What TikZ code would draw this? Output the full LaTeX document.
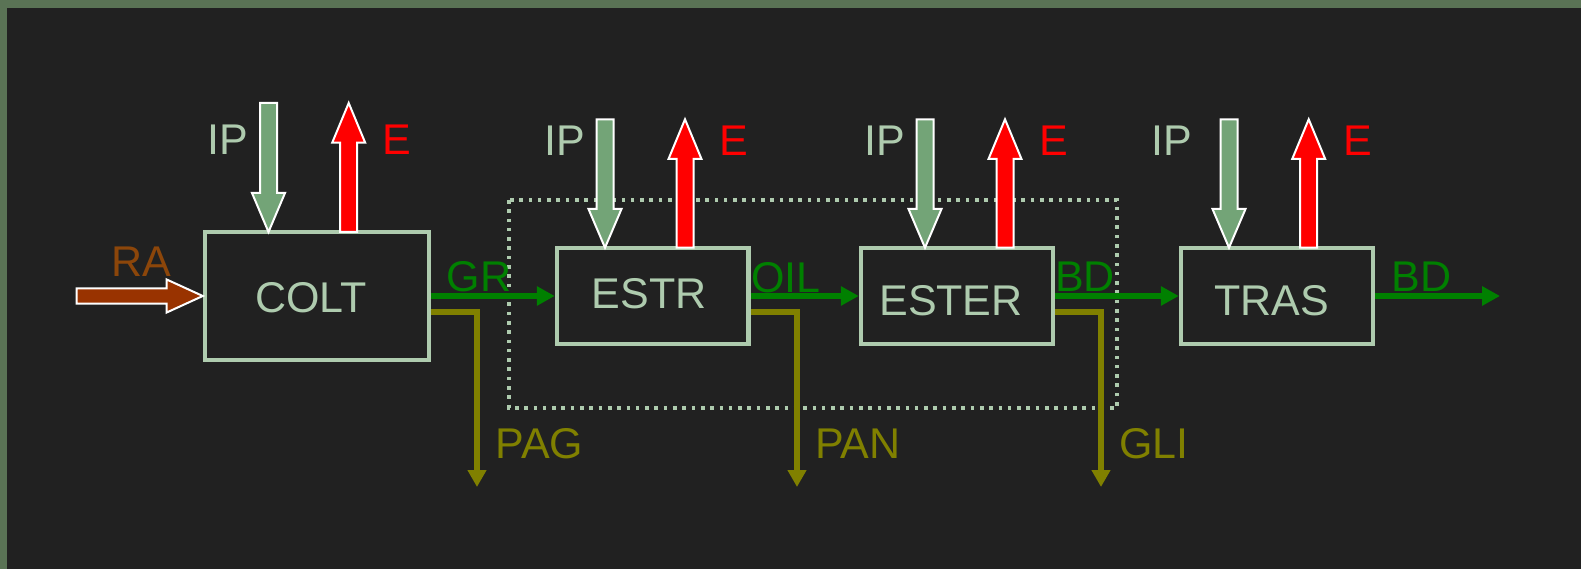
\documentclass[tikz,border=0pt]{standalone}
\usepackage{fontspec}
\setmainfont{Liberation Sans}
\usetikzlibrary{arrows.meta}
\definecolor{bgframe}{RGB}{90,115,85}
\definecolor{bgdark}{RGB}{33,33,33}
\definecolor{sage}{RGB}{174,203,174}
\definecolor{ipfill}{RGB}{115,164,119}
\definecolor{flowgreen}{RGB}{0,128,0}
\definecolor{olive}{RGB}{128,128,0}
\definecolor{ratext}{RGB}{140,70,10}
\definecolor{rafill}{RGB}{153,51,0}
\tikzset{
  boxnode/.style={draw=sage, line width=4.4pt, inner sep=0pt},
  txt/.style={font=\fontsize{43}{50}\selectfont, anchor=base, inner sep=0pt},
  flow/.style={draw=flowgreen, line width=5.6pt, -{Triangle[length=18pt,width=18.5pt]}},
  side/.style={draw=olive, line width=5.6pt, line join=miter, -{Triangle[length=17pt,width=18pt]}},
  fat/.style={draw=white, line width=2pt, line join=miter},
  dotbox/.style={draw=sage, line width=3.6pt, dash pattern=on 3.6pt off 5.7pt}
}
\newcommand\fatdown[4]{\draw[fat, fill=ipfill] (#1-8.5,#2) -- (#1+8.5,#2) -- (#1+8.5,#3) -- (#1+16.5,#3) -- (#1,#4) -- (#1-16.5,#3) -- (#1-8.5,#3) -- cycle;}
\newcommand\fatup[4]{\draw[fat, fill=red] (#1-8.5,#2) -- (#1+8.5,#2) -- (#1+8.5,#3) -- (#1+16.5,#3) -- (#1,#4) -- (#1-16.5,#3) -- (#1-8.5,#3) -- cycle;}
\begin{document}
\begin{tikzpicture}[x=1pt,y=-1pt]
\useasboundingbox (0,0) rectangle (1581,569);
\fill[bgframe] (0,0) rectangle (1581,569);
\fill[bgdark] (7,8) rectangle (1581,569);

% dotted group
\draw[dotbox] (509,200) rectangle (1117,408);

% boxes
\node[boxnode, minimum width=224pt, minimum height=128pt] (COLT) at (317,296) {};
\node[boxnode, minimum width=191.7pt, minimum height=96pt] (ESTR) at (652.8,296) {};
\node[boxnode, minimum width=192pt, minimum height=96pt] (ESTER) at (957,296) {};
\node[boxnode, minimum width=192pt, minimum height=96pt] (TRAS) at (1277,296) {};
\node[txt, text=sage] (tCOLT) at (311,312.4) {COLT};
\node[txt, text=sage] (tESTR) at (649,308.4) {ESTR};
\node[txt, text=sage] (tESTER) at (951,315.4) {ESTER};
\node[txt, text=sage] (tTRAS) at (1272,315) {TRAS};

% fat arrows
\fatdown{268.5}{103}{193}{232}
\fatup{348.7}{232}{142.7}{103}
\fatdown{605}{119.3}{209}{247.7}
\fatup{685}{247.7}{159}{119.3}
\fatdown{925}{119.3}{209}{247.7}
\fatup{1005}{247.7}{159}{119.3}
\fatdown{1229}{119.3}{209}{247.7}
\fatup{1308.7}{247.7}{159}{119.3}
\draw[fat, fill=rafill] (76.7,288.3) -- (166.7,288.3) -- (166.7,279.5) -- (COLT.west) -- (166.7,312.5) -- (166.7,303.7) -- (76.7,303.7) -- cycle;

% IP / E labels
\node[txt, text=sage] (ip1) at (228,154.4) {IP};
\node[txt, text=red] (e1) at (397,154.4) {E};
\node[txt, text=sage] (ip2) at (564.7,155.4) {IP};
\node[txt, text=red] (e2) at (733.8,155.4) {E};
\node[txt, text=sage] (ip3) at (884.7,155.4) {IP};
\node[txt, text=red] (e3) at (1054,155.4) {E};
\node[txt, text=sage] (ip4) at (1172,155.4) {IP};
\node[txt, text=red] (e4) at (1358,155.4) {E};
\node[txt, text=ratext] (ra) at (141.5,276.4) {RA};

% main flow
\coordinate (out) at (1500,296);
\draw[flow] (COLT.east) -- (ESTR.west);
\draw[flow] (ESTR.east) -- (ESTER.west);
\draw[flow] (ESTER.east) -- (TRAS.west);
\draw[flow] (TRAS.east) -- (out);
\node[txt, text=flowgreen] (gr) at (479,291.4) {GR};
\node[txt, text=flowgreen] (oil) at (786,292.4) {OIL};
\node[txt, text=flowgreen] (bd1) at (1085,291.4) {BD};
\node[txt, text=flowgreen] (bd2) at (1421.5,291.4) {BD};

% side products
\coordinate (pag) at (477,487);
\coordinate (pan) at (797,487);
\coordinate (gli) at (1101,487);
\draw[side] ([yshift=-16pt]COLT.east) -| (pag);
\draw[side] ([yshift=-16pt]ESTR.east) -| (pan);
\draw[side] ([yshift=-16pt]ESTER.east) -| (gli);
\node[txt, text=olive] (tpag) at (539.5,458.9) {PAG};
\node[txt, text=olive] (tpan) at (858,458.9) {PAN};
\node[txt, text=olive] (tgli) at (1154,458.9) {GLI};
\end{tikzpicture}
\end{document}
